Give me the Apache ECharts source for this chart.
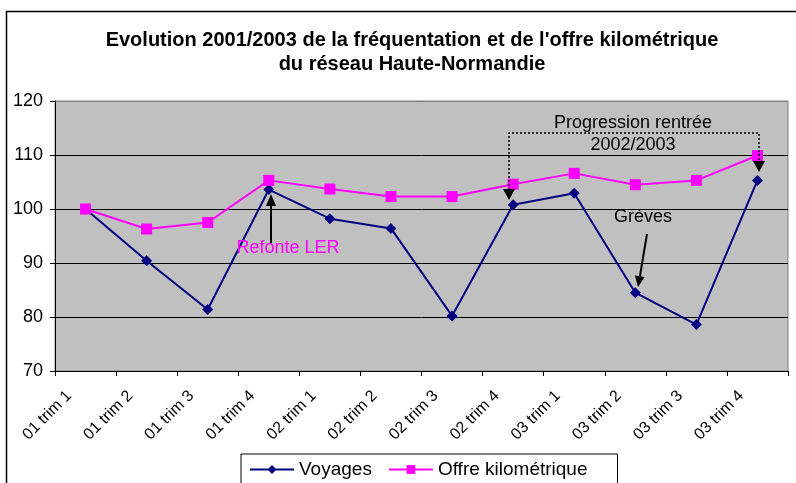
<!DOCTYPE html>
<html>
<head>
<meta charset="utf-8">
<script src="https://cdn.jsdelivr.net/npm/echarts@6/dist/echarts.min.js"></script>
<style>
html,body{margin:0;padding:0;background:#fff;}
#c{width:796px;height:483px;}
</style>
</head>
<body>
<div id="c"></div>
<script>
var categories = ['01 trim 1','01 trim 2','01 trim 3','01 trim 4','02 trim 1','02 trim 2','02 trim 3','02 trim 4','03 trim 1','03 trim 2','03 trim 3','03 trim 4'];
var voyages = [100, 90.4, 81.4, 103.6, 98.2, 96.4, 80.2, 100.8, 102.9, 84.5, 78.6, 105.3];
var offreKm = [100, 96.3, 97.5, 105.3, 103.7, 102.3, 102.3, 104.6, 106.6, 104.5, 105.3, 109.9];
var yTicks = [70, 80, 90, 100, 110, 120];

var FONT = 'Liberation Sans, Arial, sans-serif';
var chart = echarts.init(document.getElementById('c'), null, {renderer: 'canvas'});

chart.setOption({
  animation: false,
  backgroundColor: '#ffffff',
  title: {
    text: 'Evolution 2001/2003 de la fréquentation et de l\'offre kilométrique\ndu réseau Haute-Normandie',
    left: 407, top: 23, textAlign: 'center',
    textStyle: {fontFamily: FONT, fontSize: 20, fontWeight: 'bold', color: '#000', lineHeight: 24}
  },
  grid: {left: 55, top: 101, right: 8, bottom: 112, show: true, backgroundColor: '#C0C0C0', borderColor: '#808080', borderWidth: 1},
  legend: {
    left: 241, top: 454,
    padding: [6, 30, 12, 8],
    itemGap: 16, itemWidth: 44, itemHeight: 11,
    borderColor: '#000', borderWidth: 1, backgroundColor: '#fff',
    textStyle: {fontFamily: FONT, fontSize: 19, color: '#000'},
    data: ['Voyages', 'Offre kilométrique']
  },
  xAxis: {
    type: 'category', data: categories, boundaryGap: true,
    axisLine: {lineStyle: {color: '#000', width: 1}},
    axisTick: {show: true, length: 5, lineStyle: {color: '#000'}},
    axisLabel: {rotate: 45, margin: 6, fontFamily: FONT, fontSize: 16, color: '#000', padding: [0, 23, 0, 0], interval: 0},
    splitLine: {show: false}
  },
  yAxis: {
    type: 'value', min: yTicks[0], max: yTicks[yTicks.length - 1], interval: 10,
    axisLine: {show: true, lineStyle: {color: '#000', width: 1}},
    axisTick: {show: true, length: 5, lineStyle: {color: '#000'}},
    axisLabel: {margin: 12, fontFamily: FONT, fontSize: 18, color: '#000'},
    splitLine: {show: true, lineStyle: {color: '#000', width: 1}}
  },
  series: [
    {
      name: 'Voyages', type: 'line', data: voyages,
      symbol: 'diamond', symbolSize: 11,
      lineStyle: {color: '#000080', width: 2},
      itemStyle: {color: '#000080'}
    },
    {
      name: 'Offre kilométrique', type: 'line', data: offreKm,
      symbol: 'rect', symbolSize: 11,
      lineStyle: {color: '#FF00FF', width: 2},
      itemStyle: {color: '#FF00FF'}
    }
  ],
  graphic: [
    {type: 'rect', z: 100, shape: {x: 6.5, y: 11.5, width: 820, height: 520}, style: {fill: null, stroke: '#000', lineWidth: 1.5}},
    {type: 'line', z: 100, shape: {x1: 55.5, y1: 101.5, x2: 788, y2: 101.5}, style: {stroke: '#808080', lineWidth: 1}},
    // Refonte LER
    {type: 'line', z: 100, shape: {x1: 271, y1: 243, x2: 271, y2: 204}, style: {stroke: '#000', lineWidth: 2}},
    {type: 'polygon', z: 100, shape: {points: [[271, 194], [266, 206], [276, 206]]}, style: {fill: '#000'}},
    {type: 'text', z: 100, x: 288, y: 248, style: {text: 'Refonte LER', fill: '#FF00FF', font: '18px ' + FONT, align: 'center', verticalAlign: 'middle'}},
    // Grèves
    {type: 'text', z: 100, x: 643, y: 217, style: {text: 'Grèves', fill: '#000', font: '18px ' + FONT, align: 'center', verticalAlign: 'middle'}},
    {type: 'line', z: 100, shape: {x1: 647, y1: 234, x2: 639.8, y2: 277}, style: {stroke: '#000', lineWidth: 2}},
    {type: 'polygon', z: 100, shape: {points: [[638, 287], [644.7, 277], [634.9, 275.4]]}, style: {fill: '#000'}},
    // Progression bracket
    {type: 'polyline', z: 100, shape: {points: [[509, 190], [509, 133], [759, 133], [759, 162]]}, style: {stroke: '#000', lineWidth: 1.5, lineDash: [2, 2], fill: null}},
    {type: 'polygon', z: 100, shape: {points: [[503, 189], [515, 189], [509, 200]]}, style: {fill: '#000'}},
    {type: 'polygon', z: 100, shape: {points: [[753, 161], [765, 161], [759, 172]]}, style: {fill: '#000'}},
    {type: 'text', z: 100, x: 633, y: 123, style: {text: 'Progression rentrée', fill: '#000', font: '18px ' + FONT, align: 'center', verticalAlign: 'middle'}},
    {type: 'text', z: 100, x: 633, y: 145, style: {text: '2002/2003', fill: '#000', font: '18px ' + FONT, align: 'center', verticalAlign: 'middle'}}
  ]
});
</script>
</body>
</html>
